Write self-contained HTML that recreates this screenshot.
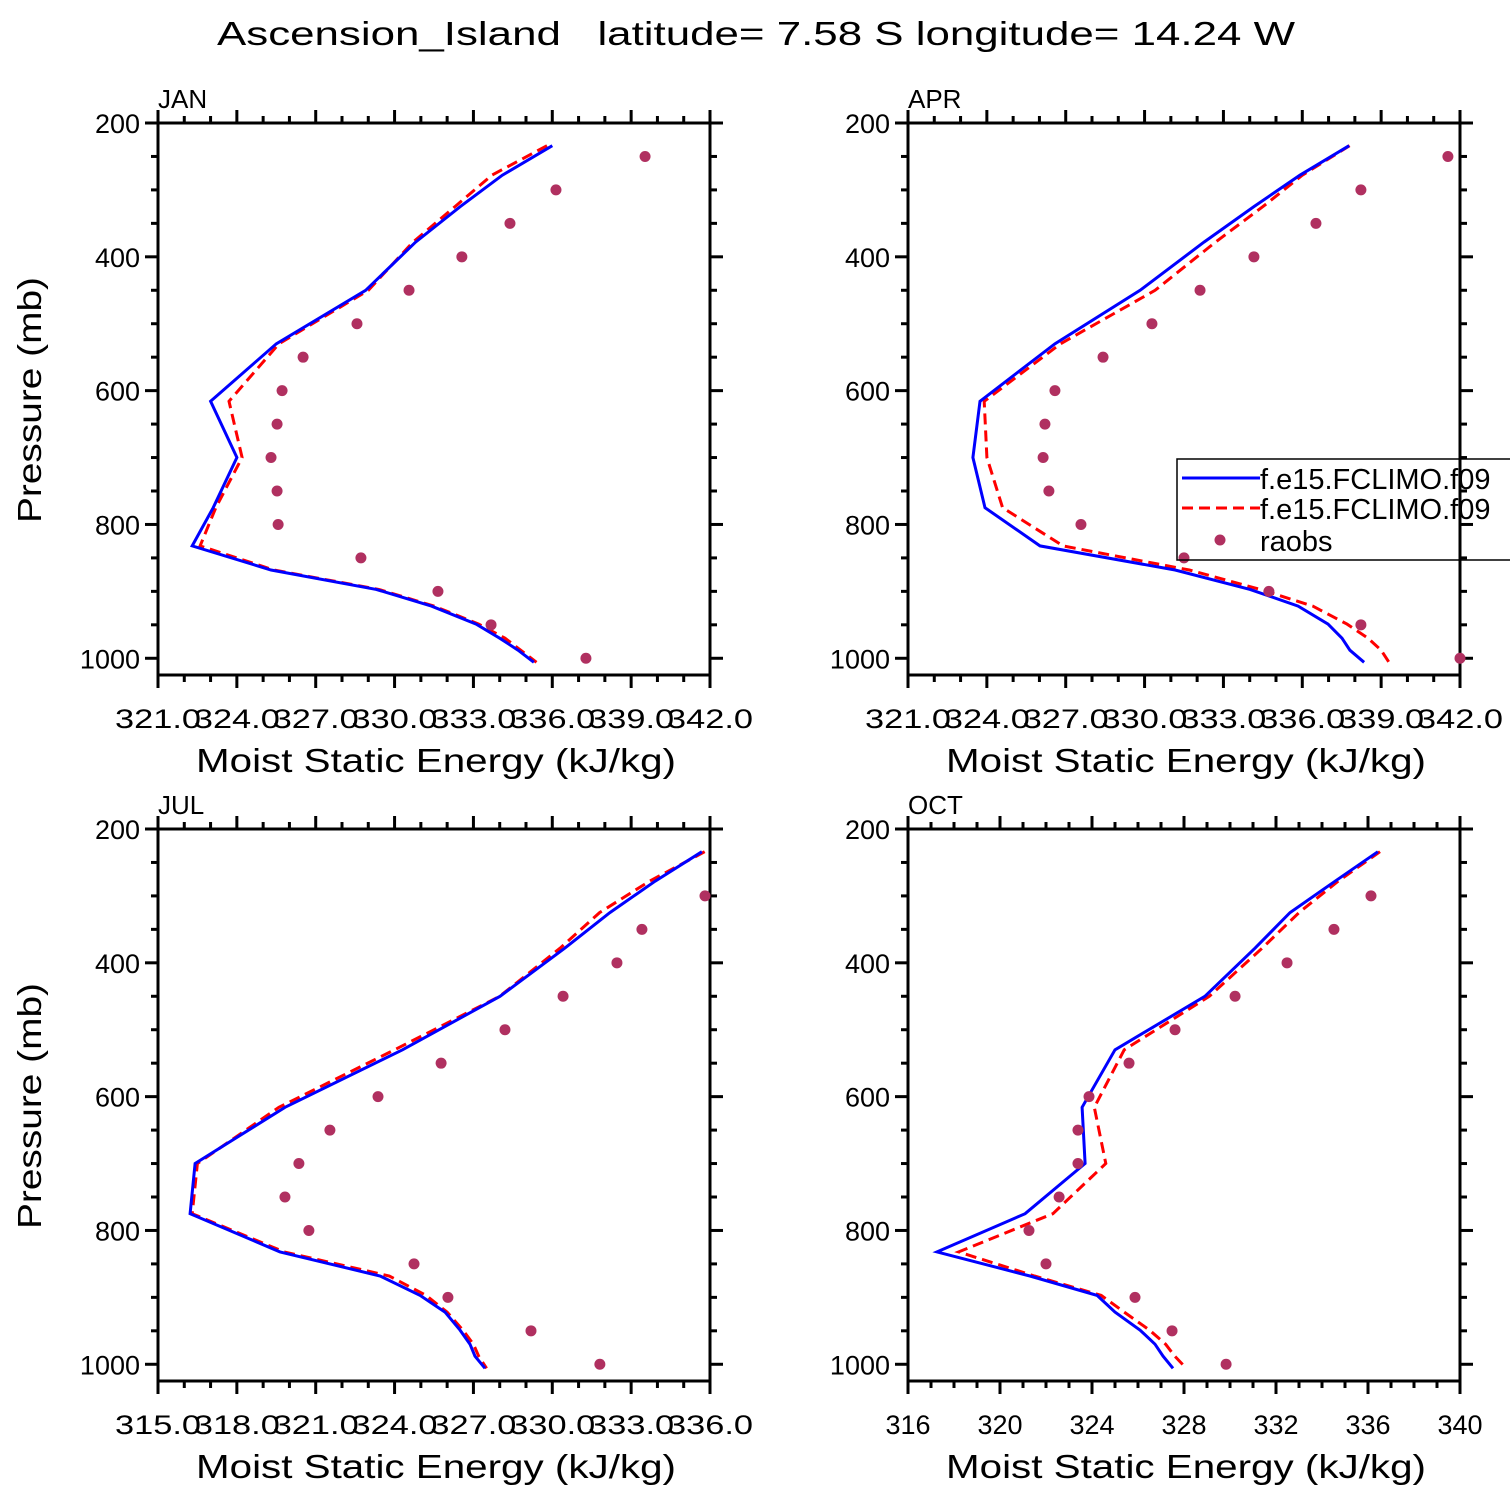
<!DOCTYPE html>
<html><head><meta charset="utf-8">
<style>
html,body{margin:0;padding:0;background:#fff;}
svg{display:block;}
text{font-family:"Liberation Sans","DejaVu Sans",sans-serif;fill:#000;white-space:pre;}
</style></head>
<body>
<svg id="fig" width="1510" height="1510" viewBox="0 0 1510 1510" xmlns="http://www.w3.org/2000/svg">
<rect width="1510" height="1510" fill="#fff"/>
<text x="217" y="45" font-size="33" textLength="1078" lengthAdjust="spacingAndGlyphs" xml:space="preserve">Ascension_Island   latitude= 7.58 S longitude= 14.24 W</text>
</svg>
<script>
// Model levels (mb)
const levels = [234,278,325,378,450,530,616,700,775,832,868,897,922,949,970,988,1006];
const obsLevels = [250,300,350,400,450,500,550,600,650,700,750,800,850,900,950,1000];
const obsLevelsJul = [300,350,400,450,500,550,600,650,700,750,800,850,900,950,1000];

const janBlue = [336.0,334.1,332.5,330.8,328.9,325.5,323.0,324.0,323.1,322.3,325.3,329.3,331.4,333.1,334.0,334.7,335.3];
const janRed  = [335.8,333.7,332.3,330.7,329.0,325.6,323.7,324.2,323.2,322.6,325.4,329.4,331.5,333.2,334.2,334.8,335.4];
const janObs  = [339.53,336.14,334.39,332.56,330.55,328.57,326.52,325.72,325.53,325.30,325.53,325.57,328.72,331.65,333.67,337.28];

const aprBlue = [337.78,335.91,334.16,332.26,329.83,326.59,323.74,323.47,323.93,326.02,331.16,334.01,335.84,336.98,337.51,337.81,338.35];
const aprRed  = [337.8,336.0,334.5,332.7,330.4,326.8,323.9,324.0,324.6,326.9,331.7,334.4,336.4,337.7,338.5,339.0,339.3];
const aprObs  = [341.54,338.23,336.52,334.16,332.11,330.28,328.42,326.59,326.21,326.14,326.36,327.58,331.50,334.73,338.23,342.0];

const julBlue = [335.69,333.91,332.19,330.48,328.01,324.3,319.83,316.41,316.22,319.64,323.45,324.97,325.92,326.49,326.87,327.06,327.44];
const julRed  = [335.8,333.7,331.8,330.3,328.0,324.0,319.6,316.5,316.3,319.8,323.8,325.2,326.0,326.6,327.0,327.2,327.5];
const julObs  = [335.81,333.41,332.46,330.41,328.20,325.77,323.37,321.54,320.36,319.83,320.74,324.74,326.03,329.19,331.81];

const octBlue = [336.43,334.57,332.61,331.09,328.91,325.0,323.57,323.70,321.09,317.26,321.30,324.22,325.0,326.09,326.74,327.09,327.52];
const octRed  = [336.52,334.7,333.0,331.4,329.1,325.4,324.1,324.6,322.3,318.2,321.5,324.4,325.4,326.5,327.2,327.6,328.1];
const octObs  = [336.13,334.52,332.48,330.22,327.61,325.61,323.87,323.39,323.39,322.57,321.26,322.0,325.87,327.48,329.83];

const pTicks = [200,400,600,800,1000];
const janXTicks = [321,324,327,330,333,336,339,342];
const julXTicks = [315,318,321,324,327,330,333,336];
const octXTicks = [316,320,324,328,332,336,340];

const NS="http://www.w3.org/2000/svg";
const svg=document.getElementById('fig');
function mk(tag,attrs,parent){const e=document.createElementNS(NS,tag);for(const k in attrs)e.setAttribute(k,attrs[k]);(parent||svg).appendChild(e);return e;}

function panel(cfg){
  const X0=cfg.x0,Y0=cfg.y0,S=552;
  const g=mk('g',{});
  
  
  const xmin=cfg.xt[0],xmax=cfg.xt[cfg.xt.length-1];
  const sx=v=>X0+(v-xmin)/(xmax-xmin)*S;
  const sy=p=>Y0+(p-200)/825*S;
  const fr=mk('rect',{x:X0,y:Y0,width:S,height:S,fill:'none',stroke:'#000','stroke-width':3},g);
  
  
  for(let p=200;p<=1025;p+=50){
    const major=(p%200===0);const L=major?13:7;const y=sy(p);
    mk('line',{x1:X0-L,y1:y,x2:X0,y2:y,stroke:'#000','stroke-width':3},g);
    mk('line',{x1:X0+S,y1:y,x2:X0+S+L,y2:y,stroke:'#000','stroke-width':3},g);
  }
  pTicks.forEach(p=>{
    const t=mk('text',{x:X0-18,y:sy(p)+10,'font-size':27,'text-anchor':'end'},g);
    t.textContent=p;
    
    
  });
  const step=cfg.xt[1]-cfg.xt[0];const minor=cfg.minor;
  for(let v=xmin;v<=xmax+1e-6;v+=minor){
    const isMaj=Math.abs(((v-xmin)/step)-Math.round((v-xmin)/step))<1e-6;
    const L=isMaj?13:7;const x=sx(v);
    mk('line',{x1:x,y1:Y0-L,x2:x,y2:Y0,stroke:'#000','stroke-width':3},g);
    mk('line',{x1:x,y1:Y0+S,x2:x,y2:Y0+S+L,stroke:'#000','stroke-width':3},g);
  }
  cfg.xt.forEach(v=>{
    const lbl=cfg.dec?v.toFixed(1):String(v);
    const attrs={x:sx(v),y:Y0+S+53,'font-size':27,'text-anchor':'middle'};
    if(cfg.dec){attrs.textLength=86;attrs.lengthAdjust='spacingAndGlyphs';}
    const t=mk('text',attrs,g);
    t.textContent=lbl;
    
    
  });
  const m=mk('text',{x:X0,y:Y0-15,'font-size':26},g);m.textContent=cfg.title;
  
  
  const xl=mk('text',{x:X0+38,y:Y0+S+97,'font-size':33,textLength:480,lengthAdjust:'spacingAndGlyphs'},g);
  xl.textContent='Moist Static Energy (kJ/kg)';
  
  
  if(cfg.ylab){
    const yl=mk('text',{x:0,y:0,'font-size':33,textLength:246,lengthAdjust:'spacingAndGlyphs',transform:`translate(41,${Y0+400}) rotate(-90)`},g);
    yl.textContent='Pressure (mb)';
    
    
  }
  const cid='clip-'+cfg.name;
  const cp=mk('clipPath',{id:cid},g);mk('rect',{x:X0,y:Y0,width:S,height:S},cp);
  const dg=mk('g',{'clip-path':`url(#${cid})`},g);
  const pts=arr=>arr.map((v,i)=>sx(v).toFixed(1)+','+sy(levels[i]).toFixed(1)).join(' ');
  const red=mk('polyline',{points:pts(cfg.red),fill:'none',stroke:'#ff0000','stroke-width':3,'stroke-dasharray':'11,6'},dg);
  
  
  const blue=mk('polyline',{points:pts(cfg.blue),fill:'none',stroke:'#0000ff','stroke-width':3},dg);
  
  
  cfg.obs.forEach((v,i)=>{
    const c=mk('circle',{cx:sx(v),cy:sy(cfg.obsP[i]),r:5.5,fill:'#b03060'},g);
    
    
  });
}

panel({name:'jan',title:'JAN',x0:158,y0:123,xt:janXTicks,minor:1,dec:true,ylab:true,blue:janBlue,red:janRed,obs:janObs,obsP:obsLevels});
panel({name:'apr',title:'APR',x0:908,y0:123,xt:janXTicks,minor:1,dec:true,ylab:false,blue:aprBlue,red:aprRed,obs:aprObs,obsP:obsLevels});
panel({name:'jul',title:'JUL',x0:158,y0:829,xt:julXTicks,minor:1,dec:true,ylab:true,blue:julBlue,red:julRed,obs:julObs,obsP:obsLevelsJul});
panel({name:'oct',title:'OCT',x0:908,y0:829,xt:octXTicks,minor:1,dec:false,ylab:false,blue:octBlue,red:octRed,obs:octObs,obsP:obsLevelsJul});

const lg=mk('g',{});


mk('rect',{x:1177,y:459,width:400,height:101,fill:'none',stroke:'#000','stroke-width':1.5},lg);
mk('line',{x1:1182,y1:478,x2:1260,y2:478,stroke:'#0000ff','stroke-width':3},lg);
mk('line',{x1:1182,y1:508,x2:1260,y2:508,stroke:'#ff0000','stroke-width':3,'stroke-dasharray':'11,6'},lg);
mk('circle',{cx:1220,cy:540,r:5.5,fill:'#b03060'},lg);
[['f.e15.FCLIMO.f09',489,'legend-entry-blue'],['f.e15.FCLIMO.f09',519,'legend-entry-red'],['raobs',551,'legend-entry-raobs']].forEach(d=>{
  const t=mk('text',{x:1260,y:d[1],'font-size':29},lg);t.textContent=d[0];
  
  
});
</script>
</body></html>
